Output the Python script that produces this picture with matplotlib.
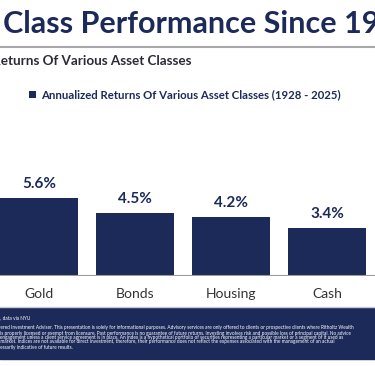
import matplotlib.pyplot as plt
from matplotlib.patches import Rectangle

categories = ["Gold", "Bonds", "Housing", "Cash"]
returns = [5.6, 4.5, 4.2, 3.4]
value_labels = ["5.6%", "4.5%", "4.2%", "3.4%"]
legend_label = "Annualized Returns Of Various Asset Classes (1928 - 2025)"
title = "Asset Class Performance Since 1928"
subtitle = "Returns Of Various Asset Classes"
footer_lines = [
    "Source: Wealth, data via NYU",
    "a Registered Investment Adviser. This presentation is solely for informational purposes. Advisory services are only offered to clients or prospective clients where Ritholtz Wealth",
    "ment is properly licensed or exempt from licensure. Past performance is no guarantee of future returns. Investing involves risk and possible loss of principal capital. No advice",
    "of an engagement unless a client service agreement is in place. An index is a hypothetical portfolio of securities representing a particular market or a segment of it used as",
    "of that market. Indices are not available for direct investment, therefore, their performance does not reflect the expenses associated with the management of an actual",
    "is not necessarily indicative of future results.",
]

NAVY = "#1c2a5a"
W, H = 375, 366

plt.rcParams["font.family"] = ["Lato", "DejaVu Sans"]
fig = plt.figure(figsize=(W / 100, H / 100), dpi=100)
renderer = fig.canvas.get_renderer()


def px(x, y):
    # pixel coords measured from top-left -> figure fraction
    return x / W, 1 - y / H


def clipped_text(x_vis, y, full, hidden, **kw):
    # place text so that the part after `hidden` starts at pixel x_vis
    probe = fig.text(0, 0, hidden, **kw)
    w = probe.get_window_extent(renderer).width
    probe.remove()
    fx, fy = px(x_vis - w, y)
    return fig.text(fx, fy, full, va="center", ha="left", **kw)


# title and subtitle
clipped_text(3, 24, title, "Asset ", fontsize=22, fontweight="bold", color=NAVY)
fig.add_artist(plt.Line2D([0, 1], [1 - 47 / H] * 2, color="#a8a8a8", lw=1.5))
clipped_text(1, 61, subtitle, "R", fontsize=9.7, fontweight="bold", color="#2b2b38")

# chart
left_px, right_px, top_px, base_px = 0, 375, 150, 276
ax = fig.add_axes([left_px / W, 1 - base_px / H, (right_px - left_px) / W, (base_px - top_px) / H])
xs = range(len(categories))
bars = ax.bar(xs, returns, width=0.81, color=NAVY, label=legend_label, zorder=2)
ax.bar_label(bars, labels=value_labels, padding=5, fontsize=11, fontweight="bold", color=NAVY)
ax.set_xlim(-39 / 96, (375 - 39) / 96)
ax.set_ylim(0, (base_px - top_px) / 14)
ax.axhline(0, color="#9a9a9a", lw=1.5, zorder=3)
ax.set_xticks(list(xs))
ax.set_xticklabels(categories, fontsize=10, color="#333333")
ax.tick_params(axis="x", length=0, pad=9)
ax.set_yticks([])
for s in ax.spines.values():
    s.set_visible(False)
ax.patch.set_alpha(0)

fig.legend(
    handles=[bars],
    labels=[legend_label],
    loc="center",
    bbox_to_anchor=(185 / W, 1 - 95 / H),
    frameon=False,
    handlelength=0.6,
    handleheight=0.6,
    handletextpad=0.4,
    prop={"weight": "bold", "size": 8.2},
    labelcolor=NAVY,
)

# footer box
fig.add_artist(plt.Line2D([0, 1], [1 - 307 / H] * 2, color="#c8cbd4", lw=1))
fig.add_artist(Rectangle((0, 1 - 359 / H), 1, (359 - 308) / H, transform=fig.transFigure, color=NAVY))
ys = [318, 328, 333, 337.5, 342, 347]
hidden = ["Source: Wealth", "a Regist", "ment ", "of an ", "of that ", "is not nec"]
for line, y, hid in zip(footer_lines, ys, hidden):
    clipped_text(0, y, line, hid, fontsize=3.4, color="white")

fig.savefig("out.png", dpi=100)
